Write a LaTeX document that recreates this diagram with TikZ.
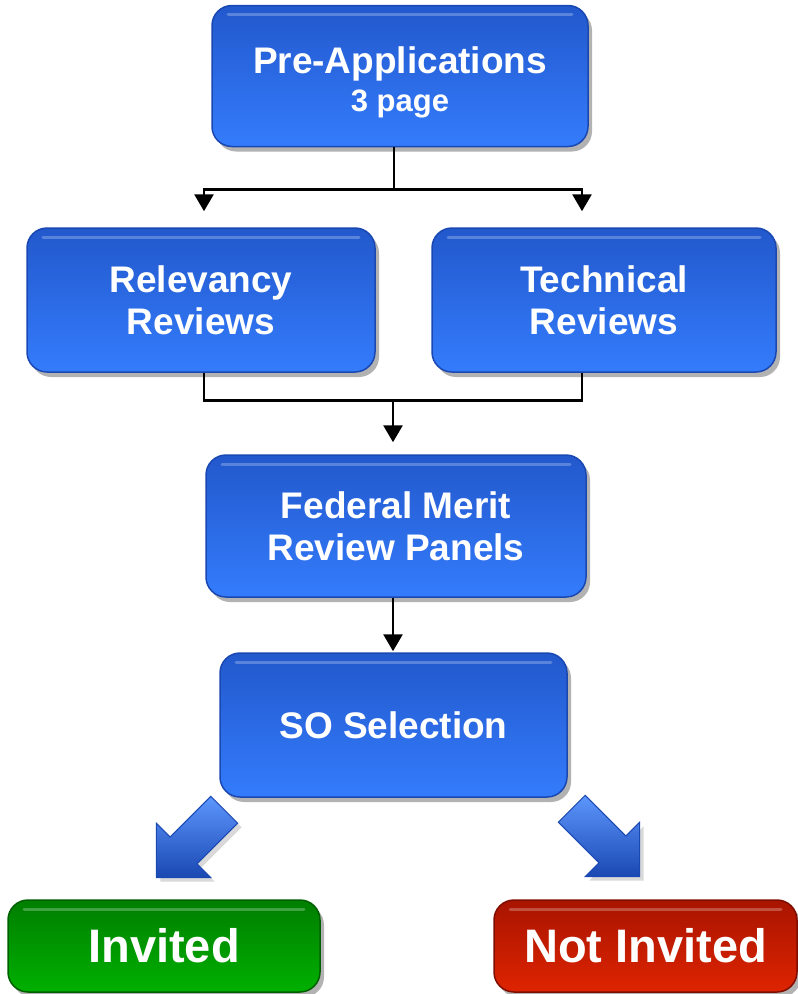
\documentclass[tikz,border=0pt]{standalone}
\usepackage{fontspec}
\setmainfont{Liberation Sans}
\usepackage{xcolor}
\usepackage{tikz}
\usetikzlibrary{calc, arrows.meta, shadows, positioning}
\definecolor{bluetop}{RGB}{34, 88, 204}
\definecolor{bluebot}{RGB}{52, 124, 252}
\definecolor{blueedge}{RGB}{26, 72, 178}
\definecolor{greentop}{RGB}{0, 126, 0}
\definecolor{greenbot}{RGB}{0, 176, 0}
\definecolor{greenedge}{RGB}{0, 96, 0}
\definecolor{redtop}{RGB}{168, 20, 0}
\definecolor{redbot}{RGB}{222, 36, 0}
\definecolor{rededge}{RGB}{128, 14, 0}
\tikzset{
    boxnode/.style = {rectangle, rounded corners=20pt, inner sep=0pt, node distance=0em,
      line width=1.5pt, text=white, font=\bfseries\fontsize{37}{42}\selectfont,
      drop shadow={shadow xshift=4pt, shadow yshift=-5pt, fill=black, opacity=0.3},
      path picture={\draw[white, opacity=0.25, line width=3pt, line cap=round]
        ($(path picture bounding box.north west)+(16,-9)$) --
        ($(path picture bounding box.north east)+(-16,-9)$);}},
    bluenode/.style = {boxnode, draw=blueedge, top color=bluetop, bottom color=bluebot},
    greennode/.style = {boxnode, draw=greenedge, top color=greentop, bottom color=greenbot,
      font=\bfseries\fontsize{47}{52}\selectfont},
    rednode/.style = {boxnode, draw=rededge, top color=redtop, bottom color=redbot,
      font=\bfseries\fontsize{47}{52}\selectfont},
    line/.style = {black, line width=2.8pt},
    connect/.style = {line, -{Triangle[width=19pt, length=17pt]}},
    pics/blockarrow/.style = {code={
      \fill[draw=blueedge, line width=1pt, left color=bluebot!80!white, right color=blueedge,
        shading angle=0, drop shadow={shadow xshift=4pt, shadow yshift=-4pt, opacity=0.3}]
        (0,-19) -- (57.5,-19) -- (57.5,-38.5) -- (96,0) -- (57.5,38.5) -- (57.5,19) -- (0,19) -- cycle;}},
    every text node part/.style={align=center}
}

\begin{document}
\begin{tikzpicture}[x=1pt, y=1pt]
\useasboundingbox (0,0) rectangle (798,-994);

\node[bluenode, name=pre, minimum width=376pt, minimum height=141pt] at (400,-76)
  {\rule{0pt}{39pt}Pre-Applications\\[-4pt]{\fontsize{31}{34}\selectfont 3 page}};

\node[bluenode, name=rel, below of = pre, xshift=-199pt, yshift=-224pt,
	minimum width=348pt, minimum height=144pt] {Relevancy\\Reviews};
\node[bluenode, name=tech, right of = rel, xshift=403pt,
	minimum width=344pt, minimum height=144pt] {Technical\\Reviews};

\node[bluenode, name=merit, below of = pre, xshift=-4pt, yshift=-450pt,
	minimum width=380pt, minimum height=142pt] {Federal Merit\\Review Panels};
\node[bluenode, name=sel, below of = merit, xshift=-2.5pt, yshift=-199pt,
	minimum width=347pt, minimum height=144pt] {SO Selection};

\node[greennode, name=inv, below of = sel, xshift=-229.5pt, yshift=-221pt,
	minimum width=312pt, minimum height=92pt] {Invited};
\node[rednode, name=notinv, below of = sel, xshift=252pt, yshift=-221pt,
	minimum width=303pt, minimum height=92pt] {Not Invited};

% split and join of the review step
\coordinate (split) at ($(pre.south)+(-6,-42)$);
\draw[line] ([xshift=-6pt]pre.south) -- (split);
\draw[connect, shorten >=16pt] (split) -| ([xshift=3pt]rel.north);
\draw[connect, shorten >=16pt] (split) -| ([xshift=-22pt]tech.north);

\coordinate (join) at ($(rel.south)+(192,-28)$);
\draw[line] ([xshift=3pt]rel.south) |- (join);
\draw[line] ([xshift=-22pt]tech.south) |- (join);
\draw[connect, shorten >=12pt] (join) -- (join |- merit.north);
\draw[connect, shorten >=1pt] ([xshift=-3pt]merit.south) -- ([xshift=-3pt]merit.south |- sel.north);

% block arrows to the outcomes
\pic[rotate=-135] at ($(sel.south west)+(5,-12)$) {blockarrow};
\pic[rotate=-45] at ($(sel.south east)+(4,-11)$) {blockarrow};
\end{tikzpicture}
\end{document}
